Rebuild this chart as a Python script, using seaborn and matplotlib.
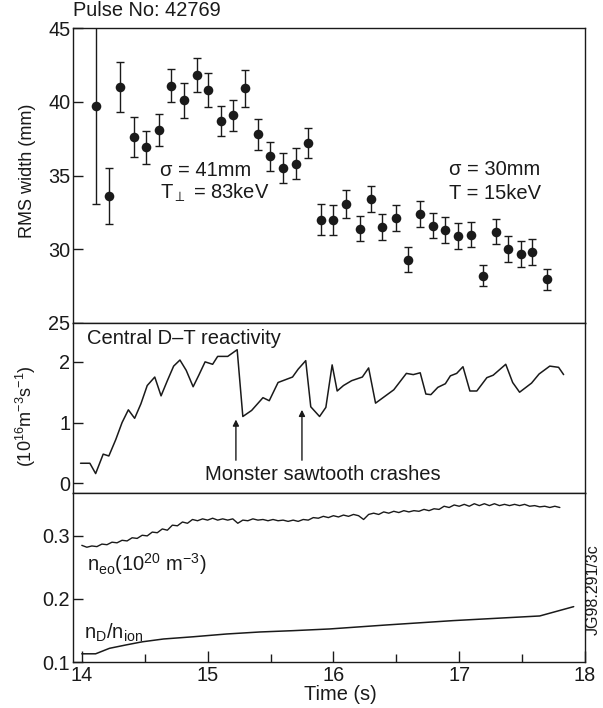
import numpy as np
import matplotlib
matplotlib.use("Agg")
import matplotlib.pyplot as plt
import seaborn as sns
from matplotlib.ticker import MultipleLocator

# ---------------- data ----------------
t_rms = [14.11, 14.215, 14.305, 14.414, 14.514, 14.612, 14.71, 14.81, 14.912, 15.005,
         15.105, 15.198, 15.30, 15.40, 15.497, 15.60, 15.70, 15.80, 15.90, 16.00,
         16.10, 16.21, 16.30, 16.39, 16.495, 16.59, 16.685, 16.79, 16.887, 16.99,
         17.09, 17.19, 17.29, 17.39, 17.49, 17.58, 17.695]
rms_width = [39.7, 33.6, 41.0, 37.6, 36.9, 38.1, 41.1, 40.1, 41.8, 40.8,
             38.7, 39.1, 40.9, 37.8, 36.3, 35.5, 35.8, 37.2, 32.0, 32.0,
             33.1, 31.4, 33.4, 31.5, 32.1, 29.3, 32.4, 31.6, 31.3, 30.9,
             31.0, 28.2, 31.2, 30.0, 29.7, 29.8, 27.95]
rms_err = [6.6, 1.9, 1.7, 1.35, 1.15, 1.1, 1.1, 1.2, 1.15, 1.15,
           1.0, 1.05, 1.25, 1.05, 1.0, 1.0, 1.05, 1.0, 1.05, 1.0,
           0.95, 0.87, 0.9, 0.88, 0.87, 0.87, 0.87, 0.87, 0.87, 0.87,
           0.87, 0.7, 0.87, 0.87, 0.87, 0.87, 0.7]

t_dt = [13.99, 14.064, 14.11, 14.17, 14.215, 14.27, 14.32, 14.37, 14.42, 14.47,
        14.52, 14.58, 14.63, 14.68, 14.73, 14.78, 14.83, 14.885, 14.93, 14.98,
        15.04, 15.08, 15.16, 15.235, 15.28, 15.35, 15.44, 15.49, 15.56, 15.675,
        15.72, 15.78, 15.82, 15.89, 15.94, 15.99, 16.03, 16.08, 16.145, 16.23,
        16.28, 16.335, 16.48, 16.58, 16.635, 16.69, 16.735, 16.775, 16.83, 16.89,
        16.93, 16.98, 17.03, 17.085, 17.14, 17.22, 17.27, 17.37, 17.425, 17.48,
        17.575, 17.635, 17.72, 17.79, 17.83]
dt_reactivity = [0.33, 0.33, 0.16, 0.48, 0.45, 0.72, 1.0, 1.21, 1.07, 1.31,
                 1.61, 1.75, 1.44, 1.69, 1.93, 2.03, 1.86, 1.59, 1.78, 2.0,
                 1.96, 2.09, 2.09, 2.2, 1.10, 1.20, 1.41, 1.36, 1.66, 1.75,
                 1.88, 2.02, 1.26, 1.10, 1.25, 1.95, 1.52, 1.61, 1.69, 1.75,
                 1.90, 1.32, 1.54, 1.81, 1.79, 1.82, 1.47, 1.46, 1.58, 1.64,
                 1.77, 1.81, 1.92, 1.52, 1.52, 1.74, 1.78, 1.96, 1.66, 1.50,
                 1.65, 1.80, 1.93, 1.91, 1.79]

t_ne = [14.00, 14.04, 14.08, 14.12, 14.16, 14.20, 14.24, 14.28, 14.32, 14.36,
        14.40, 14.44, 14.48, 14.52, 14.56, 14.60, 14.64, 14.68, 14.72, 14.76,
        14.80, 14.84, 14.88, 14.92, 14.96, 15.00, 15.04, 15.08, 15.12, 15.16,
        15.20, 15.24, 15.28, 15.32, 15.36, 15.40, 15.44, 15.48, 15.52, 15.56,
        15.60, 15.64, 15.68, 15.72, 15.76, 15.80, 15.84, 15.88, 15.92, 15.96,
        16.00, 16.04, 16.08, 16.12, 16.16, 16.20, 16.24, 16.28, 16.32, 16.36,
        16.40, 16.44, 16.48, 16.52, 16.56, 16.60, 16.64, 16.68, 16.72, 16.76,
        16.80, 16.84, 16.88, 16.92, 16.96, 17.00, 17.04, 17.08, 17.12, 17.16,
        17.20, 17.24, 17.28, 17.32, 17.36, 17.40, 17.44, 17.48, 17.52, 17.56,
        17.60, 17.64, 17.68, 17.72, 17.76, 17.80]
n_eo = [0.285, 0.282, 0.284, 0.283, 0.287, 0.286, 0.290, 0.289, 0.293, 0.292,
        0.297, 0.296, 0.301, 0.300, 0.306, 0.305, 0.311, 0.309, 0.317, 0.316,
        0.322, 0.320, 0.326, 0.324, 0.327, 0.325, 0.328, 0.325, 0.327, 0.325,
        0.327, 0.320, 0.325, 0.324, 0.327, 0.325, 0.326, 0.324, 0.326, 0.324,
        0.325, 0.323, 0.325, 0.323, 0.326, 0.325, 0.329, 0.328, 0.331, 0.329,
        0.332, 0.330, 0.333, 0.331, 0.334, 0.332, 0.326, 0.334, 0.336, 0.334,
        0.338, 0.336, 0.339, 0.337, 0.340, 0.338, 0.340, 0.339, 0.342, 0.340,
        0.343, 0.342, 0.347, 0.345, 0.349, 0.347, 0.350, 0.347, 0.351, 0.348,
        0.351, 0.348, 0.351, 0.348, 0.350, 0.348, 0.350, 0.348, 0.350, 0.347,
        0.348, 0.346, 0.347, 0.345, 0.347, 0.345]

t_nd = [14.0, 14.11, 14.22, 14.35, 14.48, 14.65, 14.885, 15.15, 15.415, 15.68,
        15.97, 16.42, 16.95, 17.64, 17.91]
nd_nion = [0.113, 0.113, 0.1217, 0.127, 0.132, 0.1365, 0.140, 0.1444, 0.1476, 0.1497,
           0.1524, 0.1587, 0.1656, 0.173, 0.1878]

x_ticks = [14, 15, 16, 17, 18]

# ---------------- style ----------------
sns.set_theme(style="ticks")
plt.rcParams["font.family"] = ["Liberation Sans", "DejaVu Sans"]
plt.rcParams["mathtext.fontset"] = "custom"
plt.rcParams["mathtext.rm"] = "Liberation Sans"
plt.rcParams["mathtext.it"] = "Liberation Sans:italic"
plt.rcParams["mathtext.default"] = "regular"

FS = 14.4    # title / x label
FY = 13.0    # y labels
FT = 14.3    # tick labels
FA = 14.5    # annotations
ink = "#1a1a1a"

fig = plt.figure(figsize=(6.03, 7.08), dpi=100)
L, W = 73 / 603, 512 / 603
H = 708.0
ax1 = fig.add_axes([L, 1 - 323 / H, W, 295 / H])
ax2 = fig.add_axes([L, 1 - 493 / H, W, 170 / H], sharex=ax1)
ax3 = fig.add_axes([L, 1 - 662 / H, W, 169 / H], sharex=ax1)

for ax in (ax1, ax2, ax3):
    for s in ax.spines.values():
        s.set_visible(True)
        s.set_linewidth(1.0)
        s.set_color(ink)
    ax.tick_params(axis="y", direction="in", length=7, width=1.0, labelsize=FT,
                   colors=ink, pad=2, right=False)
    ax.tick_params(axis="x", which="both", bottom=False, top=False, labelbottom=False)

# ----- top panel -----
ax1.errorbar(t_rms, rms_width, yerr=rms_err, fmt="none", ecolor=ink,
             elinewidth=1.0, capsize=3, capthick=1.0, zorder=2)
sns.scatterplot(x=t_rms, y=rms_width, ax=ax1, color=ink, s=48, edgecolor=ink,
                linewidth=0, zorder=3, legend=False)
ax1.set_ylim(25, 45)
ax1.set_yticks([25, 30, 35, 40, 45])
ax1.set_xlim(13.93, 18.0)
ax1.text(14.62, 35.35, "σ = 41mm", fontsize=FA, va="center", color=ink)
ax1.text(14.62, 33.85, r"T$_{\perp}$ = 83keV", fontsize=FA, va="center", color=ink)
ax1.text(16.92, 35.4, "σ = 30mm", fontsize=FA, va="center", color=ink)
ax1.text(16.92, 33.8, "T = 15keV", fontsize=FA, va="center", color=ink)

# ----- middle panel -----
sns.lineplot(x=t_dt, y=dt_reactivity, ax=ax2, color=ink, linewidth=1.1,
             estimator=None, sort=False)
ax2.set_ylim(-0.16, 2.64)
ax2.set_yticks([0, 1, 2])
ax2.text(14.04, 2.39, "Central D–T reactivity", fontsize=FA, va="center", color=ink)
ax2.text(14.98, 0.15, "Monster sawtooth crashes", fontsize=FA, va="center", color=ink)
for xa, ya in [(15.225, 1.05), (15.75, 1.21)]:
    ax2.annotate("", xy=(xa, ya), xytext=(xa, 0.38),
                 arrowprops=dict(arrowstyle="-|>", color=ink, lw=1.0,
                                 mutation_scale=9, shrinkA=0, shrinkB=0))

# ----- bottom panel -----
sns.lineplot(x=t_ne, y=n_eo, ax=ax3, color=ink, linewidth=1.0,
             estimator=None, sort=False)
sns.lineplot(x=t_nd, y=nd_nion, ax=ax3, color=ink, linewidth=1.1,
             estimator=None, sort=False)
ax3.set_ylim(0.1, 0.368)
ax3.set_yticks([0.1, 0.2, 0.3])
ax3.set_yticklabels(["0.1", "0.2", "0.3"])
ax3.set_xticks(x_ticks)
ax3.set_xticklabels([str(v) for v in x_ticks])
ax3.xaxis.set_minor_locator(MultipleLocator(0.5))
ax3.tick_params(axis="x", which="major", bottom=True, labelbottom=True, direction="in",
                length=8, width=1.0, labelsize=FT, colors=ink, pad=3)
ax3.tick_params(axis="x", which="minor", bottom=True, direction="in", length=6, width=1.0,
                colors=ink)
ax3.text(14.04, 0.2556, r"n$_{eo}$(10$^{20}$ m$^{-3}$)", fontsize=FA, va="center", color=ink)
ax3.text(14.02, 0.146, r"n$_{D}$/n$_{ion}$", fontsize=FA, va="center", color=ink)

for ax in (ax1, ax2, ax3):
    ax.set_xlabel("")
    ax.set_ylabel("")

# ----- figure texts -----
fig.text(73 / 603, 1 - 11 / H, "Pulse No: 42769", fontsize=FS, va="center", ha="left", color=ink)
fig.text(27 / 603, 1 - 171 / H, "RMS width (mm)", fontsize=FY, rotation=90,
         va="center", ha="center", color=ink)
fig.text(26 / 603, 1 - 416 / H, r"(10$^{16}$m$^{-3}$s$^{-1}$)", fontsize=FY, rotation=90,
         va="center", ha="center", color=ink)
fig.text(340 / 603, 1 - 695 / H, "Time (s)", fontsize=FS, va="center", ha="center", color=ink)
fig.text(593 / 603, 1 - 590 / H, "JG98.291/3c", fontsize=11.5, rotation=90,
         va="center", ha="center", color=ink)

fig.savefig("out.png", dpi=100)
